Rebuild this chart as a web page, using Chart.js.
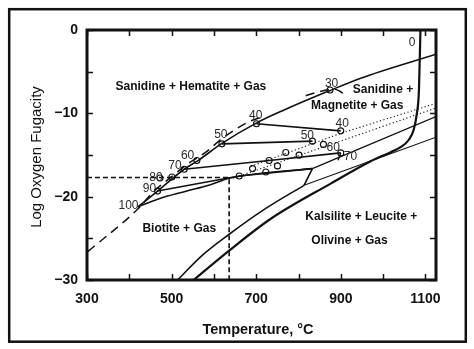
<!DOCTYPE html>
<html>
<head>
<meta charset="utf-8">
<script src="https://cdn.jsdelivr.net/npm/chart.js@4.4.1/dist/chart.umd.min.js"></script>
<style>
  html, body { margin: 0; padding: 0; background: #fff; }
  #wrap { width: 474px; height: 349px; }
</style>
</head>
<body>
<div id="wrap"><canvas id="c" width="474" height="349"></canvas></div>
<script>
// Phase boundaries: temperature (°C) and log oxygen fugacity pairs
const upperT = [419.7, 466.9, 529.7, 561.4, 618.8, 699, 765.9, 872.1, 947, 1125];
const upperF = [-21.25, -19.33, -16.71, -15.71, -13.61, -11.2, -9.6, -7.31, -5.78, -2.9];

const dashedT = [302, 427.6, 451, 500, 540, 578.6, 620, 683, 715, 760, 817, 850, 883.6, 915.2];
const dashedF = [-26.6, -21.1, -19.7, -17.6, -16.0, -14.75, -13.0, -11.0, -10.4, null, -7.88, -7.4, -7.1, -7.88];

const meltT = [552, 636, 734.5, 876, 970.6, 1017.8, 1041.4, 1060.3, 1072.1, 1079.2, 1084.7, 1088.2];
const meltF = [-30, -26.47, -22.65, -18.43, -15.75, -14.66, -14.06, -13.2, -12.0, -10.2, -7.19, 0];

const bioT = [514.2, 569.2, 632.2, 722.7, 813.1];
const bioF = [-30, -27.19, -24.66, -21.41, -18.64];

const kinkT = [813.1, 832.9];
const kinkF = [-18.64, -16.63];

const thinT = [813.1, 1125];
const thinF = [-18.64, -12.86];

const midT = [832.9, 899.8, 1125];
const midF = [-16.63, -15.2, -10.4];

const dot1T = [687.3, 899.8, 1125];
const dot1F = [-16.35, -12.4, -8.8];
const dot2T = [644.7, 1125];
const dot2F = [-17.8, -9.36];

const lowerT = [419.7, 467, 530, 590, 636, 722.7, 832.9];
const lowerF = [-21.25, -20.3, -19.4, -18.6, -17.8, -17.15, -16.63];

// Tie lines between coexisting compositions
const tie40T = [700.7, 899.8];
const tie40F = [-11.25, -12.1];
const tie50T = [618.8, 832.9];
const tie50F = [-13.66, -13.34];
const tie70T = [529.7, 730.5, 899.8];
const tie70F = [-16.71, -15.66, -14.75];
const tie90T = [466.9, 659.8, 832.9];
const tie90F = [-19.33, -17.52, -16.63];
const slashT = [899.8, 893.4];
const slashF = [-14.75, -15.62];

// Reading guide at 636 °C
const guideT = [300, 636, 636];
const guideF = [-17.7, -17.7, -30];

// Analysed compositions (open circles)
const markT = [874.5, 700.7, 899.8, 618.8, 832.9, 559.7, 899.8, 529.7, 472.4, 500.7, 466.9,
               659.8, 691.3, 722.7, 730.5, 750.3, 769.9, 801.3, 858.9];
const markF = [-7.2, -11.25, -12.1, -13.66, -13.34, -15.66, -14.75, -16.71, -17.76, -17.64, -19.33,
               -17.52, -16.63, -17.04, -15.66, -16.31, -14.7, -15.02, -13.73];

// Composition numbers, placed in data units
const tagText = ['30', '40', '40', '50', '50', '60', '60', '70', '70', '80', '90', '100', '0'];
const tagT = [878.2, 698.9, 903.4, 616.3, 820.9, 537.8, 882.2, 507.8, 923, 463, 447.7, 398.1, 1068.6];
const tagF = [-6.39, -10.33, -11.2, -12.61, -12.73, -15.06, -14.14, -16.31, -15.23, -17.76, -19.04, -21.05, -1.57];

// Field names
const fieldText = ['Sanidine + Hematite + Gas', 'Sanidine +', 'Magnetite + Gas', 'Biotite + Gas',
                   'Kalsilite + Leucite +', 'Olivine + Gas'];
const fieldT = [545.6, 999.7, 938.8, 518, 948.5, 920.6];
const fieldF = [-6.8, -7.11, -9.12, -23.86, -22.37, -25.27];

const xTicks = [300, 400, 500, 600, 700, 800, 900, 1000, 1100];
const xLabelled = [300, 500, 700, 900, 1100];
const yTicks = [-30, -25, -20, -15, -10, -5, 0];
const yLabelled = [-30, -20, -10, 0];

const INK = '#111';
const FONT = '"Liberation Sans", Arial, sans-serif';

function pts(T, F) {
  return T.map((t, i) => ({ x: t, y: F[i] }));
}

function line(T, F, width, dash, smooth) {
  return {
    data: pts(T, F),
    showLine: true,
    borderColor: INK,
    borderWidth: width,
    borderDash: dash || [],
    pointRadius: 0,
    fill: false,
    spanGaps: false,
    cubicInterpolationMode: smooth ? 'monotone' : 'default',
    tension: 0
  };
}

const decor = {
  id: 'decor',
  beforeDraw(chart) {
    const ctx = chart.ctx;
    ctx.save();
    ctx.fillStyle = '#fff';
    ctx.fillRect(0, 0, chart.width, chart.height);
    ctx.restore();
  },
  afterDatasetsDraw(chart) {
    const ctx = chart.ctx;
    const a = chart.chartArea;
    const xs = chart.scales.x, ys = chart.scales.y;
    ctx.save();

    // inward tick marks on all four sides
    ctx.strokeStyle = INK;
    ctx.lineWidth = 1.5;
    const tl = 6;
    xTicks.forEach(v => {
      const px = Math.round(xs.getPixelForValue(v)) + 0.5;
      ctx.beginPath();
      ctx.moveTo(px, a.bottom); ctx.lineTo(px, a.bottom - tl);
      ctx.moveTo(px, a.top); ctx.lineTo(px, a.top + tl);
      ctx.stroke();
    });
    yTicks.forEach(v => {
      const py = Math.round(ys.getPixelForValue(v)) + 0.5;
      ctx.beginPath();
      ctx.moveTo(a.left, py); ctx.lineTo(a.left + tl, py);
      ctx.moveTo(a.right, py); ctx.lineTo(a.right - tl, py);
      ctx.stroke();
    });

    // heavy plot border
    ctx.lineWidth = 3;
    ctx.strokeRect(a.left, a.top, a.right - a.left, a.bottom - a.top);

    // outer frame
    ctx.lineWidth = 2.5;
    ctx.strokeRect(9.2, 9.2, 456.6, 332.5);

    // composition numbers
    ctx.fillStyle = '#2a2a2a';
    ctx.font = '12px ' + FONT;
    ctx.textAlign = 'center';
    ctx.textBaseline = 'middle';
    tagText.forEach((t, i) => {
      ctx.fillText(t, xs.getPixelForValue(tagT[i]), ys.getPixelForValue(tagF[i]));
    });

    // field names
    ctx.fillStyle = INK;
    ctx.font = 'bold 12px ' + FONT;
    fieldText.forEach((t, i) => {
      ctx.fillText(t, xs.getPixelForValue(fieldT[i]), ys.getPixelForValue(fieldF[i]));
    });

    // axis titles
    ctx.font = 'bold 14.5px ' + FONT;
    ctx.fillText('Temperature, °C', 258, 330);
    ctx.translate(36.5, 157);
    ctx.rotate(-Math.PI / 2);
    ctx.font = '15px ' + FONT;
    ctx.fillText('Log Oxygen Fugacity', 0, 0);
    ctx.restore();
  }
};

new Chart(document.getElementById('c'), {
  type: 'scatter',
  data: {
    datasets: [
      line(guideT, guideF, 1.6, [5, 3]),
      line(dot1T, dot1F, 1.1, [1.2, 2.4]),
      line(dot2T, dot2F, 1.1, [1.2, 2.4]),
      line(dashedT, dashedF, 1.5, [9, 6], true),
      line(upperT, upperF, 1.6, null, true),
      line(meltT, meltF, 2.2, null, true),
      line(bioT, bioF, 1.6, null, true),
      line(kinkT, kinkF, 1.6),
      line(thinT, thinF, 1.1),
      line(midT, midF, 1.3),
      line(lowerT, lowerF, 1.6, null, true),
      line(tie40T, tie40F, 1.6),
      line(tie50T, tie50F, 1.6),
      line(tie70T, tie70F, 1.6),
      line(tie90T, tie90F, 1.6),
      line(slashT, slashF, 1.4),
      {
        data: pts(markT, markF),
        showLine: false,
        pointRadius: 3,
        pointBackgroundColor: '#fff',
        pointBorderColor: INK,
        pointBorderWidth: 1.1
      }
    ]
  },
  options: {
    responsive: false,
    devicePixelRatio: 1,
    animation: false,
    layout: { padding: { left: 0, top: 30, right: 38, bottom: 0 } },
    plugins: { legend: { display: false }, tooltip: { enabled: false } },
    scales: {
      x: {
        type: 'linear', position: 'bottom', min: 300, max: 1125,
        grid: { display: false, drawTicks: false },
        border: { display: false },
        afterBuildTicks: s => { s.ticks = xTicks.map(v => ({ value: v })); },
        afterFit: s => { s.height = 69; },
        ticks: {
          autoSkip: false, maxRotation: 0, padding: 11, color: INK,
          font: { family: FONT, size: 14, weight: 'bold' },
          callback: v => (xLabelled.includes(v) ? String(v) : '')
        }
      },
      y: {
        type: 'linear', position: 'left', min: -30, max: 0,
        grid: { display: false, drawTicks: false },
        border: { display: false },
        afterBuildTicks: s => { s.ticks = yTicks.map(v => ({ value: v })); },
        afterFit: s => { s.width = 87; },
        ticks: {
          autoSkip: false, padding: 9, color: INK,
          font: { family: FONT, size: 14, weight: 'bold' },
          callback: v => (yLabelled.includes(v) ? String(v).replace('-', '\u2212') : '')
        }
      }
    }
  },
  plugins: [decor]
});
</script>
</body>
</html>
